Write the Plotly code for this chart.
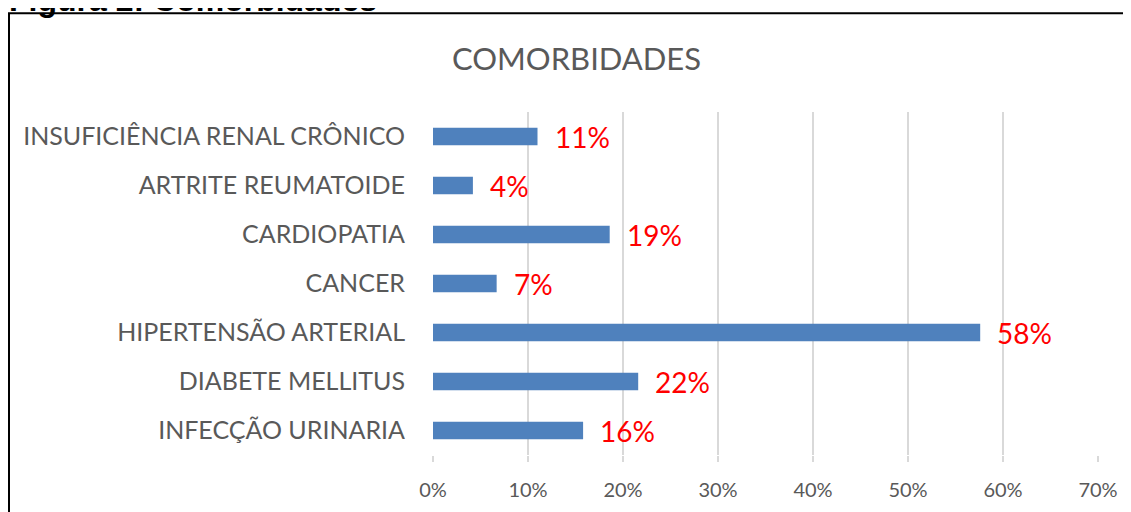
import plotly.graph_objects as go

categories = ["INFECÇÃO URINARIA", "DIABETE MELLITUS", "HIPERTENSÃO ARTERIAL", "CANCER",
              "CARDIOPATIA", "ARTRITE REUMATOIDE", "INSUFICIÊNCIA RENAL CRÔNICO"]
values = [0.158, 0.216, 0.576, 0.067, 0.186, 0.042, 0.11]
labels = ["16%", "22%", "58%", "7%", "19%", "4%", "11%"]
tick_vals = [0, 0.1, 0.2, 0.3, 0.4, 0.5, 0.6, 0.7]
tick_text = ["0%", "10%", "20%", "30%", "40%", "50%", "60%", "70%"]

W, H = 1131, 512
OFF = 8  # page body margin
# target pixel geometry (in reference coordinates)
PL, PR, PT, PB = 433, 1098, 112, 455.5
L, T = PL - OFF, PT - OFF
R = W - (PR - OFF)
B = H - (PB - OFF)
pw, ph = W - L - R, H - T - B

def px_x(p):
    return (p - OFF - L) / pw

def px_y(p):
    return (H - B - (p - OFF)) / ph

FONT = "Lato"

fig = go.Figure()
fig.add_trace(go.Bar(
    y=categories, x=values, orientation="h",
    marker=dict(color="#4F81BD", line=dict(width=0)),
    width=0.36, hoverinfo="skip",
))

for c, v, t in zip(categories, values, labels):
    fig.add_annotation(x=v, y=c, text=t, showarrow=False, xanchor="left",
                       xshift=15, font=dict(family=FONT, size=28, color="#FF0000"))

fig.add_annotation(xref="paper", yref="paper", x=px_x(576), y=px_y(58),
                   text="COMORBIDADES", showarrow=False, xanchor="center", yanchor="middle",
                   font=dict(family=FONT, size=31, color="#595959"))

fig.add_annotation(xref="paper", yref="paper", x=px_x(7), y=px_y(19.5),
                   text="<b>Figura 2: Comorbidades</b>", showarrow=False,
                   xanchor="left", yanchor="bottom",
                   font=dict(family="Liberation Sans, Arial", size=32, color="#000000"))

fig.add_shape(type="rect", xref="paper", yref="paper",
              x0=px_x(9), x1=px_x(1150), y0=px_y(540), y1=px_y(13),
              line=dict(color="#000000", width=2), fillcolor="rgba(0,0,0,0)", layer="below")

fig.update_layout(
    width=W, height=H,
    margin=dict(l=L, r=R, t=T, b=B, autoexpand=False),
    paper_bgcolor="white", plot_bgcolor="white",
    showlegend=False,
    xaxis=dict(range=[0, 0.7], tickvals=tick_vals, ticktext=tick_text,
               showgrid=True, gridcolor="#D9D9D9", gridwidth=1.5,
               zeroline=False, showline=False,
               ticks="outside", ticklen=6, tickcolor="#D9D9D9", tickwidth=1.5,
               ticklabelstandoff=11,
               tickfont=dict(family=FONT, size=20, color="#595959")),
    yaxis=dict(categoryorder="array", categoryarray=categories,
               range=[-0.5, 6.5], showgrid=False, zeroline=False, showline=False,
               ticks="", ticklabelstandoff=27,
               tickfont=dict(family=FONT, size=25, color="#595959")),
)

fig.write_html("out.html")
